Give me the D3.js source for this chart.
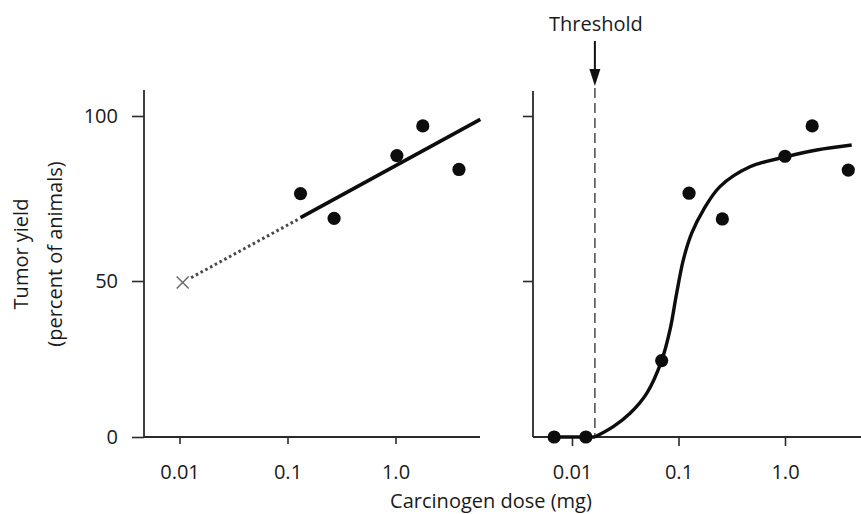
<!DOCTYPE html>
<html>
<head>
<meta charset="utf-8">
<script src="https://cdn.jsdelivr.net/npm/d3@7"></script>
<style>
  html, body { margin: 0; padding: 0; background: #fff; }
  svg { display: block; }
  text { font-family: "Open Sans", "Noto Sans", sans-serif; fill: #1a1a1a; }
</style>
</head>
<body>
<svg id="chart" width="861" height="514"></svg>
<script>
// ---------- data ----------
const xTickValues = [0.01, 0.1, 1];
const xTickLabels = ["0.01", "0.1", "1.0"];
const yTickValues = [0, 50, 100];
const yTickLabels = ["0", "50", "100"];

// left panel: observed points, linear (log-dose) fit, extrapolation to low dose
const leftDose = [0.132, 0.27, 1.03, 1.79, 3.87];
const leftYield = [76.5, 69, 88, 97, 83.8];
const leftFitSolidDose = [0.132, 6.1];
const leftFitSolidYield = [69.2, 99];
const leftFitDottedDose = [0.0128, 0.124];
const leftFitDottedYield = [51, 68.6];
const extrapDose = [0.0107];
const extrapYield = [49.5];

// right panel: observed points and threshold curve
const rightDose = [0.0068, 0.0135, 0.0695, 0.1256, 0.258, 1.0, 1.8, 3.93];
const rightYield = [0, 0, 24.5, 76.6, 68.8, 87.8, 97, 83.6];
const curveDose = [0.0164, 0.0244, 0.0351, 0.0503, 0.0695, 0.0832, 0.0961, 0.111, 0.133, 0.171, 0.245, 0.469, 1.04, 1.99, 4.23];
const curveYield = [0, 3.3, 7.6, 14.0, 24.5, 34.3, 46.1, 56.4, 64.5, 71.5, 78.6, 84.6, 87.7, 89.7, 91.2];
const thresholdDose = 0.0164;

const yAxisLabel = ["Tumor yield", "(percent of animals)"];
const xAxisLabel = "Carcinogen dose (mg)";
const thresholdLabel = "Threshold";

// ---------- layout ----------
const svg = d3.select("#chart");
svg.append("rect").attr("width", 861).attr("height", 514).attr("fill", "#fff");

const yScale = d3.scaleLinear().domain([0, 50, 100]).range([437, 281, 116]);
const xL = d3.scaleLog().domain([0.01, 1]).range([179.5, 395.5]);
const xR = d3.scaleLog().domain([0.01, 1]).range([572, 785]);

const panels = [
  { x: xL, axisX: 144, right: 480, top: 90, yTicks: yTickValues, ySize: 12, showLabels: true, xTickSize: 7 },
  { x: xR, axisX: 533, right: 861, top: 91, yTicks: [50, 100], ySize: 10, showLabels: false, xTickSize: 9 }
];

const axisColor = "#2a2a2a";
const fontSize = 20;

panels.forEach(p => {
  // y axis
  const ya = d3.axisLeft(yScale)
    .tickValues(p.yTicks)
    .tickSize(p.ySize)
    .tickPadding(14)
    .tickFormat(d => p.showLabels ? yTickLabels[yTickValues.indexOf(d)] : "");
  const gy = svg.append("g").attr("transform", `translate(${p.axisX},0)`).call(ya);
  gy.select(".domain").remove();
  gy.selectAll(".tick line").attr("stroke", axisColor).attr("stroke-width", 1.6);
  gy.selectAll(".tick text").style("font-size", fontSize + "px").attr("fill", "#1a1a1a")
    .style("font-family", '"Open Sans", sans-serif');
  svg.append("line")
    .attr("x1", p.axisX).attr("x2", p.axisX)
    .attr("y1", yScale(0)).attr("y2", p.top)
    .attr("stroke", axisColor).attr("stroke-width", 1.8);

  // x axis
  const xa = d3.axisBottom(p.x)
    .tickValues(xTickValues)
    .tickSize(p.xTickSize)
    .tickPadding(28 - p.xTickSize)
    .tickFormat((d, i) => xTickLabels[i]);
  const gx = svg.append("g").attr("transform", `translate(0,${yScale(0)})`).call(xa);
  gx.select(".domain").remove();
  gx.selectAll(".tick line").attr("stroke", axisColor).attr("stroke-width", 1.6);
  gx.selectAll(".tick text").style("font-size", fontSize + "px").attr("fill", "#1a1a1a")
    .style("font-family", '"Open Sans", sans-serif');
  svg.append("line")
    .attr("x1", p.axisX).attr("x2", p.right)
    .attr("y1", yScale(0)).attr("y2", yScale(0))
    .attr("stroke", axisColor).attr("stroke-width", 1.8);
});

// ---------- left panel marks ----------
const lineGen = (xs) => d3.line().x(d => xs(d[0])).y(d => yScale(d[1]));

svg.append("path")
  .datum(leftFitDottedDose.map((d, i) => [d, leftFitDottedYield[i]]))
  .attr("d", lineGen(xL))
  .attr("fill", "none").attr("stroke", "#4a4a4a")
  .attr("stroke-width", 3).attr("stroke-dasharray", "2.6,2.8");

svg.append("path")
  .datum(leftFitSolidDose.map((d, i) => [d, leftFitSolidYield[i]]))
  .attr("d", lineGen(xL))
  .attr("fill", "none").attr("stroke", "#0d0d0d").attr("stroke-width", 3.6);

svg.selectAll(".dotL")
  .data(leftDose.map((d, i) => [d, leftYield[i]]))
  .enter().append("circle")
  .attr("cx", d => xL(d[0])).attr("cy", d => yScale(d[1]))
  .attr("r", 6.6).attr("fill", "#0d0d0d");

// X marker (extrapolated value)
extrapDose.forEach((d, i) => {
  const cx = xL(d), cy = yScale(extrapYield[i]), s = 6;
  svg.append("path")
    .attr("d", `M${cx - s},${cy - s}L${cx + s},${cy + s}M${cx + s},${cy - s}L${cx - s},${cy + s}`)
    .attr("stroke", "#6a6a6a").attr("stroke-width", 1.5).attr("fill", "none");
});

// ---------- right panel marks ----------
const tx = xR(thresholdDose);
svg.append("line")
  .attr("x1", tx).attr("x2", tx)
  .attr("y1", 88).attr("y2", yScale(0))
  .attr("stroke", "#555").attr("stroke-width", 1.6)
  .attr("stroke-dasharray", "10,5");

// arrow
svg.append("line")
  .attr("x1", tx).attr("x2", tx).attr("y1", 41).attr("y2", 72)
  .attr("stroke", "#111").attr("stroke-width", 2);
svg.append("path")
  .attr("d", `M${tx - 5.5},69L${tx + 5.5},69L${tx},86Z`)
  .attr("fill", "#111");

svg.append("text")
  .attr("x", tx + 1).attr("y", 31)
  .attr("text-anchor", "middle")
  .style("font-size", fontSize + "px")
  .text(thresholdLabel);

svg.append("path")
  .datum(curveDose.map((d, i) => [d, curveYield[i]]))
  .attr("d", lineGen(xR).curve(d3.curveCatmullRom.alpha(0.5)))
  .attr("fill", "none").attr("stroke", "#0d0d0d").attr("stroke-width", 3.4);

// baseline segment between the zero-yield points
svg.append("path")
  .datum([[rightDose[0], 0], [thresholdDose, 0]])
  .attr("d", lineGen(xR))
  .attr("fill", "none").attr("stroke", "#0d0d0d").attr("stroke-width", 3.4);

svg.selectAll(".dotR")
  .data(rightDose.map((d, i) => [d, rightYield[i]]))
  .enter().append("circle")
  .attr("cx", d => xR(d[0])).attr("cy", d => yScale(d[1]))
  .attr("r", 6.6).attr("fill", "#0d0d0d");

// ---------- axis titles ----------
svg.append("text")
  .attr("x", 491).attr("y", 508)
  .attr("text-anchor", "middle")
  .style("font-size", fontSize + "px")
  .text(xAxisLabel);

[28, 62].forEach((bx, i) => {
  svg.append("text")
    .attr("transform", `translate(${bx},254) rotate(-90)`)
    .attr("text-anchor", "middle")
    .style("font-size", fontSize + "px")
    .text(yAxisLabel[i]);
});
</script>
</body>
</html>
